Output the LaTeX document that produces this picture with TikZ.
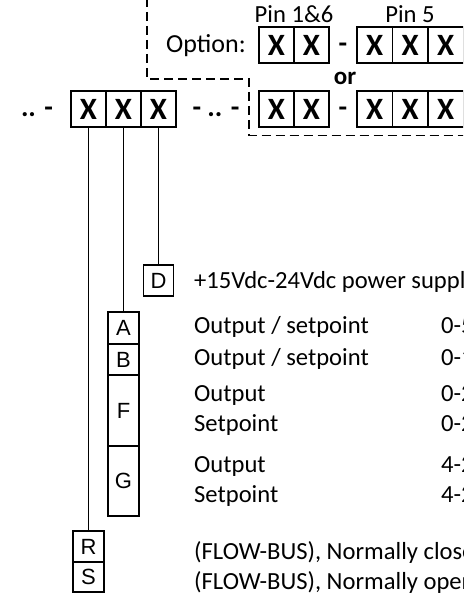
\documentclass[tikz,border=0pt]{standalone}
\usepackage{fontspec}
\setmainfont{Carlito}
\newfontfamily\arialf{Liberation Sans}
\begin{document}
\begin{tikzpicture}[x=1pt,y=-1pt]
\tikzset{
  cell/.style={draw, line width=1.8pt, minimum width=35pt, minimum height=36pt, inner sep=0pt,
    font=\bfseries\fontsize{31}{31}\selectfont},
  lbox/.style={draw, line width=1.7pt, minimum width=31pt, inner sep=0pt,
    font=\arialf\fontsize{22}{22}\selectfont},
  txt/.style={anchor=base west, inner sep=0pt, font=\fontsize{24.6}{24.6}\selectfont},
  ctxt/.style={anchor=base, inner sep=0pt, font=\fontsize{24.6}{24.6}\selectfont},
  btxt/.style={anchor=base, inner sep=0pt, font=\bfseries\fontsize{28}{28}\selectfont},
  wire/.style={line width=1.6pt},
  dashline/.style={line width=1.1pt, dash pattern=on 9pt off 5pt}
}
\useasboundingbox (0,0) rectangle (463,593);
\clip (0,0) rectangle (463,593);
% left group
\node[cell] (l1) at (88.5,109) {X};
\node[cell] (l2) at (123.5,109) {X};
\node[cell] (l3) at (158.5,109) {X};
\node[btxt] (pre) at (37,117) {.. -};
\node[btxt] (mid) at (216,117) {- .. -};
% option group, row 1
\node[cell] (a1) at (276.5,45) {X};
\node[cell] (a2) at (311.5,45) {X};
\node[btxt] (ad) at (343,53) {-};
\node[cell, minimum width=35.5pt] (a3) at (374.75,45) {X};
\node[cell, minimum width=35.5pt] (a4) at (410.25,45) {X};
\node[cell, minimum width=35.5pt] (a5) at (445.75,45) {X};
% row 2
\node[cell] (b1) at (276.5,109) {X};
\node[cell] (b2) at (311.5,109) {X};
\node[btxt] (bd) at (343,117) {-};
\node[cell, minimum width=35.5pt] (b3) at (374.75,109) {X};
\node[cell, minimum width=35.5pt] (b4) at (410.25,109) {X};
\node[cell, minimum width=35.5pt] (b5) at (445.75,109) {X};
% labels top
\node[ctxt] (pin16) at (294,23) {Pin 1\&6};
\node[ctxt] (pin5) at (410,23) {Pin 5};
\node[anchor=base east, inner sep=0pt, font=\fontsize{26}{26}\selectfont] (opt) at (246,53) {Option:};
\node[btxt, font=\bfseries\fontsize{25}{25}\selectfont] (or) at (345,85) {or};
% dashed boundary
\draw[dashline] (147,-2) -- (147,79) -- (249,79) -- (249,135.5) -- (470,135.5);
% letter boxes
\node[lbox, minimum width=30pt, minimum height=31pt] (D) at (158.5,280.5) {D};
\node[lbox, minimum height=32pt] (A) at (123.5,328) {A};
\node[lbox, minimum height=31pt] (B) at (123.5,359.5) {B};
\node[lbox, minimum height=71pt] (F) at (123.5,410.5) {F};
\node[lbox, minimum height=70pt] (G) at (123.5,481) {G};
\node[lbox, minimum height=31pt] (R) at (88.5,546.5) {R};
\node[lbox, minimum height=30pt] (S) at (88.5,577) {S};
% wires
\draw[wire] (l1.south) -- (R.north);
\draw[wire] (l2.south) -- (A.north);
\draw[wire] (l3.south) -- (D.north);
% descriptions
\node[txt] (t1) at (194,288) {+15Vdc-24Vdc power supply};
\node[txt] (t2) at (194,333) {Output / setpoint};
\node[txt] (t3) at (194,365) {Output / setpoint};
\node[txt] (t4) at (194,401) {Output};
\node[txt] (t5) at (194,431) {Setpoint};
\node[txt] (t6) at (194,472) {Output};
\node[txt] (t7) at (194,502) {Setpoint};
\node[txt] (t8) at (194,559) {(FLOW-BUS), Normally closed};
\node[txt] (t9) at (194,589) {(FLOW-BUS), Normally open};
\node[txt] (v2) at (441,333) {0-5Vdc};
\node[txt] (v3) at (441,365) {0-10Vdc};
\node[txt] (v4) at (441,401) {0-20mA};
\node[txt] (v5) at (441,431) {0-20mA};
\node[txt] (v6) at (441,472) {4-20mA};
\node[txt] (v7) at (441,502) {4-20mA};
\end{tikzpicture}
\end{document}
